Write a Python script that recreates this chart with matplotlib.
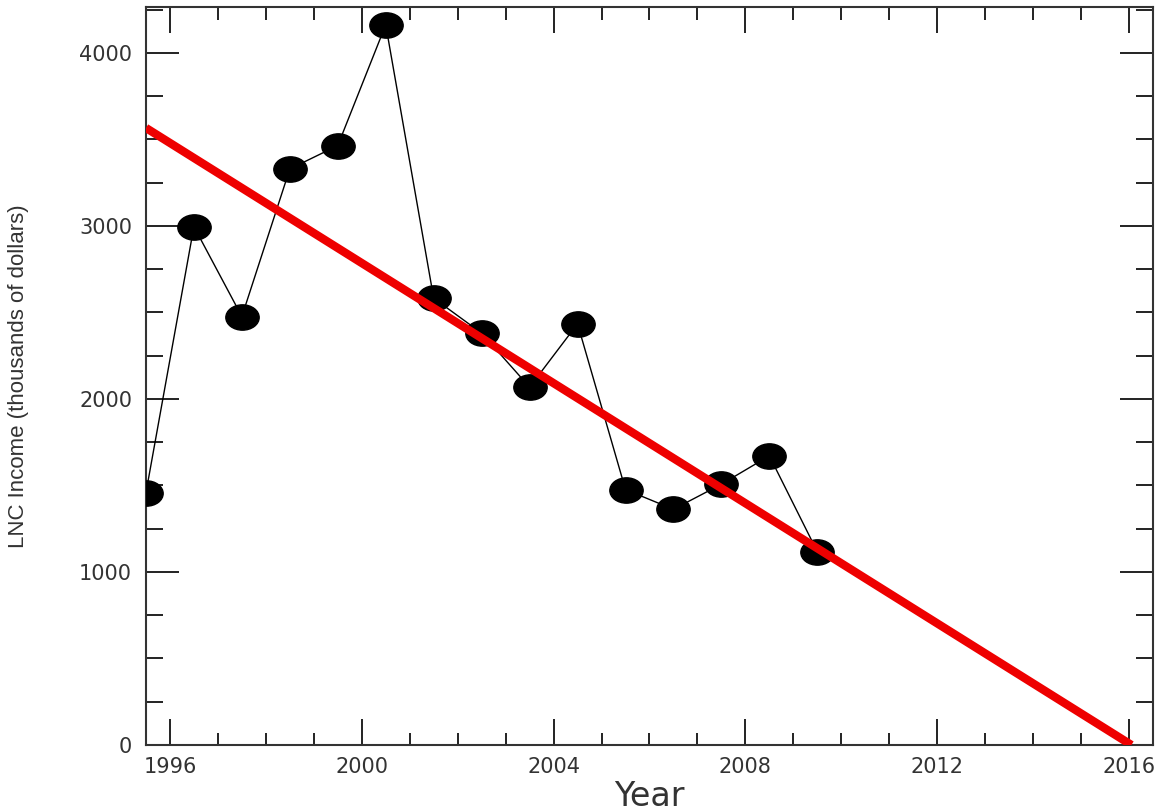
import numpy as np
import matplotlib.pyplot as plt
from matplotlib.path import Path
from matplotlib.transforms import Affine2D
from matplotlib.ticker import MultipleLocator

# LNC income per year (thousands of dollars)
years = [1995.5, 1996.5, 1997.5, 1998.5, 1999.5, 2000.5, 2001.5, 2002.5,
         2003.5, 2004.5, 2005.5, 2006.5, 2007.5, 2008.5, 2009.5]
income = [1458, 2996, 2476, 3329, 3464, 4162, 2582, 2380,
          2068, 2434, 1476, 1362, 1507, 1671, 1117]

# trend line end points
trend_years = [1995.5, 2016.05]
trend_income = [3566, 0]

xticks = [1996, 2000, 2004, 2008, 2012, 2016]
yticks = [0, 1000, 2000, 3000, 4000]

fig = plt.figure(figsize=(11.63, 8.11), dpi=100)
ax = fig.add_axes([0.1255, 0.0814, 0.8659, 0.91])

# flattened circle marker (wider than tall)
ellipse = Affine2D().scale(1.0, 0.76).transform_path(Path.unit_circle())

ax.plot(years, income, color='black', lw=1.0, zorder=2)
ax.plot(years, income, ls='none', marker=ellipse, ms=24, color='black', zorder=3)
ax.plot(trend_years, trend_income, color='#ee0000', lw=6, zorder=4,
        solid_capstyle='butt')

ax.set_xlim(1995.5, 2016.5)
ax.set_ylim(0, 4265)
ax.set_xticks(xticks)
ax.set_yticks(yticks)
ax.xaxis.set_minor_locator(MultipleLocator(1))
ax.yaxis.set_minor_locator(MultipleLocator(250))

ax.tick_params(axis='both', which='both', direction='in', top=True, right=True,
               color='#222222', width=1.4, labelcolor='#333333', labelsize=15)
ax.tick_params(axis='y', which='major', length=24, pad=10)
ax.tick_params(axis='y', which='minor', length=12)
ax.tick_params(axis='x', which='major', length=19, pad=9)
ax.tick_params(axis='x', which='minor', length=9)

for s in ax.spines.values():
    s.set_color('#333333')
    s.set_linewidth(1.5)

ax.set_xlabel('Year', fontsize=24, color='#333333', labelpad=2)
ax.set_ylabel('LNC Income (thousands of dollars)', fontsize=16,
              color='#333333', family='Liberation Sans', labelpad=36)

fig.savefig('out.png', dpi=100)
